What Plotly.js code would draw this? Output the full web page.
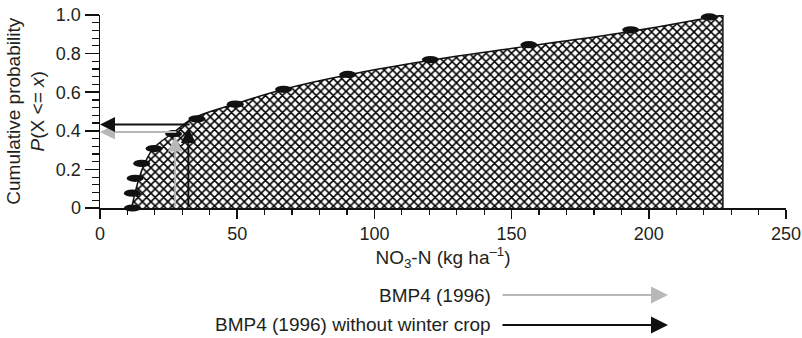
<!DOCTYPE html>
<html>
<head>
<meta charset="utf-8">
<script src="https://cdn.plot.ly/plotly-3.0.1.min.js"></script>
<style>html,body{margin:0;padding:0;background:#fff}#chart{width:802px;height:338px}</style>
</head>
<body>
<div id="chart"></div>
<script>
// Observed data points (NO3-N, cumulative probability)
const pointX = [11.8, 11.8, 12.8, 15.2, 19.7, 26.8, 35.3, 49.3, 66.9, 90.3, 120.4, 156.3, 193.4, 222.0];
const pointY = [0, 0.077, 0.154, 0.231, 0.308, 0.385, 0.462, 0.538, 0.615, 0.692, 0.769, 0.846, 0.923, 0.99];
// Fitted cumulative curve
const curveX = [11.5, 12.8, 14.3, 16.4, 19.5, 26.7, 34.0, 49.5, 67.0, 90.5, 120.5, 156.5, 193.5, 227.0];
const curveY = [0, 0.08, 0.157, 0.235, 0.31, 0.39, 0.465, 0.54, 0.615, 0.69, 0.765, 0.84, 0.915, 1.0];
const arrowNames = ['BMP4 (1996)', 'BMP4 (1996) without winter crop'];
const arrowX = [27.4, 32.2];
const arrowY = [0.394, 0.432];
const arrowTipY = [0.37, 0.415];
// Tick labels
const xTickVals = [0, 50, 100, 150, 200, 250];
const xTickText = ['0', '50', '100', '150', '200', '250'];
const yTickVals = [0, 0.2, 0.4, 0.6, 0.8, 1.0];
const yTickText = ['0', '0.2', '0.4', '0.6', '0.8', '1.0'];

const arrowColors = ['#b8b8b8', '#111111'];
const FONT = 'Liberation Sans, Arial, sans-serif';
const TXT = '#231f20';

const lastX = curveX[curveX.length - 1];
const lastY = curveY[curveY.length - 1];

const traces = [
  {
    x: curveX, y: curveY, type: 'scatter', mode: 'lines',
    line: {shape: 'spline', color: '#111', width: 1.5},
    fill: 'tozeroy',
    fillcolor: 'white',
    fillpattern: {shape: 'x', size: 6, solidity: 0.45, fgcolor: '#000', bgcolor: 'white'},
    hoverinfo: 'skip', showlegend: false
  },
  {
    x: [lastX, lastX], y: [lastY, 0], type: 'scatter', mode: 'lines',
    line: {color: '#111', width: 1.5}, hoverinfo: 'skip', showlegend: false
  }
];

// Elliptical markers drawn as pixel-sized shapes anchored at the data values
// (y range is [0,1], so the paper y equals the data y; paper ref avoids clipping)
const shapes = pointX.map((px, i) => ({
  type: 'circle', xref: 'x', yref: 'paper',
  xsizemode: 'pixel', ysizemode: 'pixel',
  xanchor: px, yanchor: pointY[i],
  x0: -8.5, x1: 8.5, y0: -3.6, y1: 3.6,
  fillcolor: '#111', line: {width: 0}
}));

const annotations = [];
arrowNames.forEach((name, i) => {
  // vertical arrow from x-axis up to the curve
  annotations.push({
    x: arrowX[i], y: arrowTipY[i], ax: arrowX[i], ay: 0,
    xref: 'x', yref: 'y', axref: 'x', ayref: 'y',
    text: '', showarrow: true, arrowhead: 2, arrowsize: 1.5, arrowwidth: 2,
    arrowcolor: arrowColors[i], standoff: 0
  });
  // horizontal arrow to the probability axis
  annotations.push({
    x: 0, y: arrowY[i], ax: arrowX[i] + 1, ay: arrowY[i],
    xref: 'x', yref: 'y', axref: 'x', ayref: 'y',
    text: '', showarrow: true, arrowhead: 2, arrowsize: 1.5, arrowwidth: 2,
    arrowcolor: arrowColors[i], standoff: 0
  });
  // legend entry
  const ly = [-0.451, -0.606][i];
  annotations.push({
    x: 0.573, y: ly, xref: 'paper', yref: 'paper', xanchor: 'right', yanchor: 'middle',
    text: name, showarrow: false, font: {family: FONT, size: 19, color: TXT}
  });
  annotations.push({
    x: 0.828, y: ly, xref: 'paper', yref: 'paper',
    ax: -167, ay: 0, text: '', showarrow: true, arrowhead: 2, arrowsize: 1.7, arrowwidth: 2,
    arrowcolor: arrowColors[i], standoff: 0
  });
});

// Y axis title (two lines)
annotations.push({
  x: -0.109, y: 0.5, xref: 'paper', yref: 'paper', xanchor: 'center', yanchor: 'middle',
  textangle: -90, showarrow: false,
  text: 'Cumulative probability<br><i>P</i>(X &lt;= <i>x</i>)',
  font: {family: FONT, size: 19, color: TXT}
});

const layout = {
  width: 802, height: 338,
  margin: {l: 100, r: 16, t: 15, b: 130},
  paper_bgcolor: 'white', plot_bgcolor: 'white',
  font: {family: FONT, size: 18, color: TXT},
  showlegend: false,
  xaxis: {
    range: [0, 250], showgrid: false, zeroline: false,
    showline: true, linecolor: '#111', linewidth: 1.5,
    ticks: 'outside', ticklen: 9, tickwidth: 1.5, tickcolor: '#111',
    tickvals: xTickVals, ticktext: xTickText,
    minor: {dtick: 10, tick0: 0, ticks: 'outside', ticklen: 5, tickwidth: 1.2, tickcolor: '#111'},
    title: {text: 'NO<sub>3</sub>-N (kg ha<sup>–1</sup>)', font: {family: FONT, size: 19, color: TXT}, standoff: 6},
    fixedrange: true
  },
  yaxis: {
    range: [0, 1], showgrid: false, zeroline: false,
    showline: true, linecolor: '#111', linewidth: 1.5,
    ticks: 'outside', ticklen: 14, tickwidth: 1.5, tickcolor: '#111',
    tickvals: yTickVals, ticktext: yTickText,
    minor: {dtick: 0.04, tick0: 0, ticks: 'outside', ticklen: 7, tickwidth: 1.2, tickcolor: '#111'},
    fixedrange: true
  },
  shapes: shapes,
  annotations: annotations
};

Plotly.newPlot('chart', traces, layout, {displayModeBar: false, staticPlot: true});
</script>
</body>
</html>
